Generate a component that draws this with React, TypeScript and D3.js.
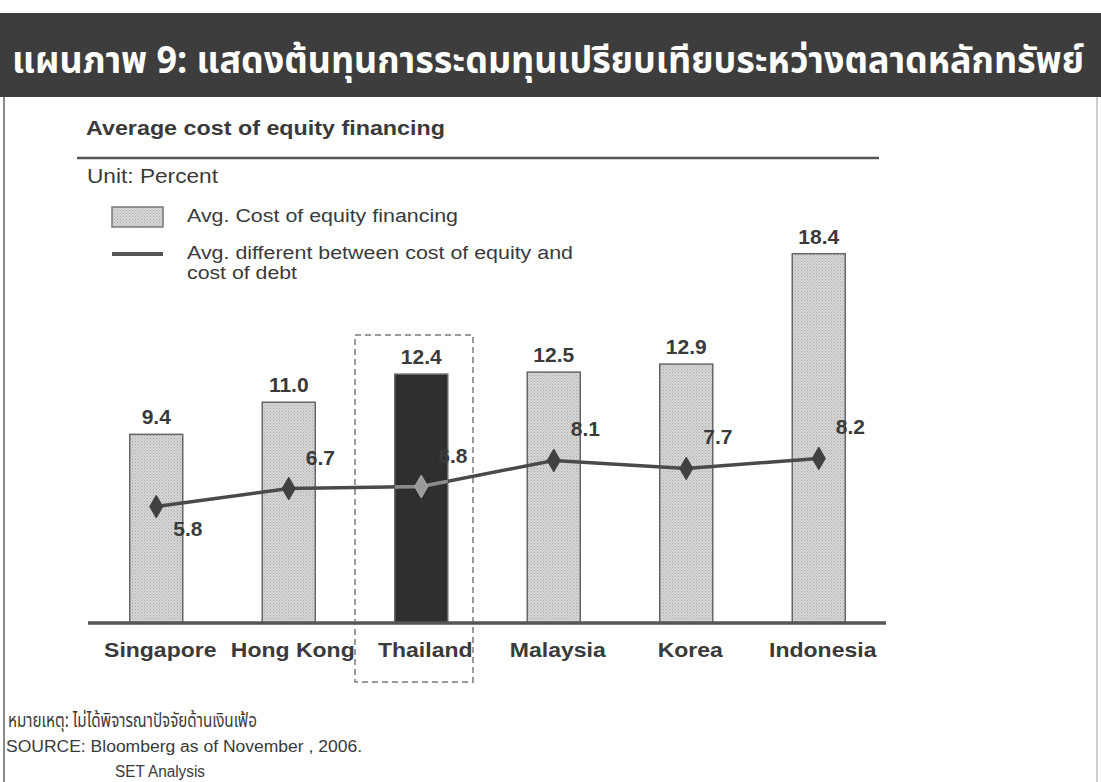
import React from "react";
import * as d3 from "d3";

// ---------- data ----------
const categories = ["Singapore", "Hong Kong", "Thailand", "Malaysia", "Korea", "Indonesia"];
const equityCost = [9.4, 11.0, 12.4, 12.5, 12.9, 18.4];
const equityDebtDiff = [5.8, 6.7, 6.8, 8.1, 7.7, 8.2];
const highlightCategory = "Thailand";

const titleText = "แผนภาพ 9: แสดงต้นทุนการระดมทุนเปรียบเทียบระหว่างตลาดหลักทรัพย์";
const chartTitle = "Average cost of equity financing";
const unitLabel = "Unit: Percent";
const legendBarLabel = "Avg. Cost of equity financing";
const legendLineLabel = ["Avg. different between cost of equity and", "cost of debt"];
const noteText = "หมายเหตุ: ไม่ได้พิจารณาปัจจัยด้านเงินเฟ้อ";
const sourceLines = ["SOURCE: Bloomberg as of November , 2006.", "SET Analysis"];

// ---------- layout ----------
const W = 1101;
const H = 782;
const SANS = "'Liberation Sans', Arial, Helvetica, sans-serif";
const THAI = "'Noto Sans Thai', 'Noto Sans Thai UI', 'Noto Sans', 'DejaVu Sans', sans-serif";
const TEXT = "#3a3a3a";

export default function App() {
  const x = d3.scaleBand<string>().domain(categories).range([90, 885]).paddingInner(0.6).paddingOuter(0.3);
  const y = d3.scaleLinear().domain([0, 20]).range([623, 221.6]);
  const fmt = d3.format(".1f");
  const cx = (c: string) => (x(c) as number) + x.bandwidth() / 2;

  const linePts: [number, number][] = categories.map((c, i) => [cx(c), y(equityDebtDiff[i])]);
  const linePath = d3.line()(linePts) as string;
  const diamond = d3.symbol().type(d3.symbolDiamond).size(150)() as string;

  const hi = categories.indexOf(highlightCategory);
  const hx = x(highlightCategory) as number;

  return (
    <svg width={W} height={H} style={{ position: "absolute", left: 0, top: 0, background: "#fff" }}>
      <defs>
        <pattern id="stipple" width="3" height="3" patternUnits="userSpaceOnUse">
          <rect width="3" height="3" fill="#d6d6d6" />
          <rect x="0" y="0" width="1" height="1" fill="#a9a9a9" />
          <rect x="1.5" y="1.5" width="1" height="1" fill="#b5b5b5" />
        </pattern>
        <clipPath id="hiClip">
          <rect x={hx} y={y(equityCost[hi])} width={x.bandwidth()} height={y(0) - y(equityCost[hi])} />
        </clipPath>
      </defs>

      {/* frame */}
      <rect x={0} y={0} width={W} height={H} fill="#fff" />
      <line x1={4} x2={4} y1={97} y2={H} stroke="#8a8a8a" strokeWidth={2} />
      <line x1={1097} x2={1097} y1={97} y2={H} stroke="#d0d0d0" strokeWidth={2} />

      {/* title band */}
      <rect x={0} y={13} width={W} height={84} fill="#3d3d3d" />
      <g transform="translate(12,73) scale(1,1.22)">
        <text x={0} y={0} fill="#fff" fontFamily={THAI} fontWeight="bold" fontSize={31}
          textLength={1072} lengthAdjust="spacingAndGlyphs">{titleText}</text>
      </g>

      {/* chart heading */}
      <text x={86} y={135} fill={TEXT} fontFamily={SANS} fontWeight="bold" fontSize={21}
        textLength={359} lengthAdjust="spacingAndGlyphs">{chartTitle}</text>
      <line x1={77} x2={879} y1={158} y2={158} stroke="#555" strokeWidth={2.5} />
      <text x={87} y={183} fill={TEXT} fontFamily={SANS} fontSize={20}
        textLength={131} lengthAdjust="spacingAndGlyphs">{unitLabel}</text>

      {/* legend */}
      <rect x={112} y={207} width={51} height={20} fill="url(#stipple)" stroke="#777" strokeWidth={1.5} />
      <text x={187} y={222} fill={TEXT} fontFamily={SANS} fontSize={18}
        textLength={271} lengthAdjust="spacingAndGlyphs">{legendBarLabel}</text>
      <line x1={112} x2={163} y1={254} y2={254} stroke="#555" strokeWidth={4} />
      <text x={187} y={259} fill={TEXT} fontFamily={SANS} fontSize={18}
        textLength={386} lengthAdjust="spacingAndGlyphs">{legendLineLabel[0]}</text>
      <text x={187} y={279} fill={TEXT} fontFamily={SANS} fontSize={18}
        textLength={110} lengthAdjust="spacingAndGlyphs">{legendLineLabel[1]}</text>

      {/* highlight box */}
      <rect x={355} y={335} width={118} height={347} fill="none" stroke="#7a7a7a" strokeWidth={1.5} strokeDasharray="6 4" />

      {/* bars */}
      {categories.map((c, i) => (
        <rect key={c} x={x(c)} y={y(equityCost[i])} width={x.bandwidth()} height={y(0) - y(equityCost[i])}
          fill={c === highlightCategory ? "#2f2f2f" : "url(#stipple)"} stroke="#666" strokeWidth={1.5} />
      ))}

      {/* bar value labels */}
      {categories.map((c, i) => (
        <text key={c} x={cx(c)} y={y(equityCost[i]) - 10} textAnchor="middle" fill={TEXT}
          fontFamily={SANS} fontWeight="bold" fontSize={21}>{fmt(equityCost[i])}</text>
      ))}

      {/* axis */}
      <line x1={88} x2={886} y1={y(0)} y2={y(0)} stroke="#555" strokeWidth={3.5} />

      {/* line series */}
      <path d={linePath} fill="none" stroke="#4a4a4a" strokeWidth={3.5} />
      <path d={linePath} fill="none" stroke="#8c8c8c" strokeWidth={3.5} clipPath="url(#hiClip)" />
      {linePts.map(([px, py], i) => (
        <path key={i} d={diamond} transform={`translate(${px},${py})`}
          fill={categories[i] === highlightCategory ? "#9a9a9a" : "#404040"}
          stroke={categories[i] === highlightCategory ? "#b0b0b0" : "#404040"} strokeWidth={1} />
      ))}
      {linePts.map(([px, py], i) => (
        <text key={i} x={px + 17} y={i === 0 ? py + 29 : py - 24} fill={TEXT}
          fontFamily={SANS} fontWeight="bold" fontSize={21}>{fmt(equityDebtDiff[i])}</text>
      ))}

      {/* category labels */}
      {categories.map((c) => (
        <g key={c} transform={`translate(${cx(c) + 4},657) scale(1.15,1)`}>
          <text textAnchor="middle" fill={TEXT} fontFamily={SANS} fontWeight="bold" fontSize={20}>{c}</text>
        </g>
      ))}

      {/* footnotes */}
      <text x={8} y={727} fill={TEXT} fontFamily={THAI} fontSize={19}
        textLength={249} lengthAdjust="spacingAndGlyphs">{noteText}</text>
      <text x={6} y={752} fill={TEXT} fontFamily={SANS} fontSize={16}
        textLength={356} lengthAdjust="spacingAndGlyphs">{sourceLines[0]}</text>
      <text x={115} y={777} fill={TEXT} fontFamily={SANS} fontSize={16}
        textLength={90} lengthAdjust="spacingAndGlyphs">{sourceLines[1]}</text>
    </svg>
  );
}
